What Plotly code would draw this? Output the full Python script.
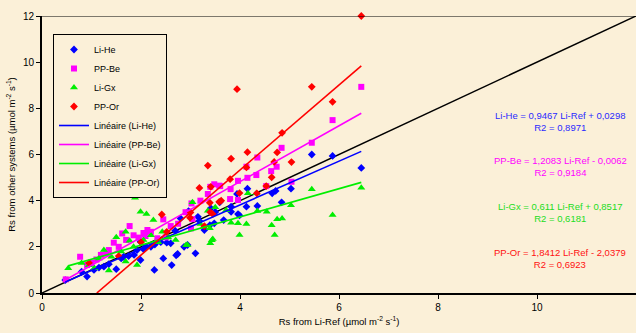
import plotly.graph_objects as go

# ---------------- data ----------------
series_names = ["Li-He", "PP-Be", "Li-Gx", "PP-Or"]

lihe_x = [0.47, 0.80, 0.91, 1.05, 1.15, 1.25, 1.35, 1.50, 1.60, 1.65, 1.75, 1.86, 1.92, 1.99, 1.99,
          2.05, 2.10, 2.20, 2.27, 2.28, 2.40, 2.45, 2.52, 2.60, 2.62, 2.69, 2.71, 2.74, 2.80, 2.87,
          2.94, 2.96, 3.10, 3.15, 3.18, 3.28, 3.39, 3.41, 3.48, 3.50, 3.59, 3.67, 3.82, 3.82, 3.94,
          3.96, 3.99, 4.13, 4.15, 4.35, 4.65, 4.72, 4.84, 5.03, 5.45, 5.87, 6.45]
lihe_y = [0.56, 0.92, 0.71, 1.00, 1.10, 1.14, 1.25, 1.03, 1.50, 1.57, 1.60, 1.65, 1.86, 1.43, 2.22,
          1.90, 2.00, 2.00, 1.00, 2.10, 2.20, 1.50, 2.18, 2.15, 1.21, 2.70, 1.63, 1.69, 3.23, 2.00,
          2.08, 3.55, 1.72, 3.30, 3.12, 2.73, 2.94, 3.67, 3.02, 3.51, 3.93, 3.16, 3.52, 3.74, 4.29,
          3.42, 3.36, 3.74, 4.52, 3.77, 4.32, 4.42, 3.93, 4.52, 6.00, 5.94, 5.42]

ppbe_x = [0.48, 0.77, 0.91, 1.00, 1.10, 1.19, 1.30, 1.35, 1.45, 1.55, 1.62, 1.70, 1.77, 1.85, 1.95,
          2.05, 2.09, 2.13, 2.20, 2.33, 2.45, 2.50, 2.60, 2.75, 2.90, 3.01, 3.02, 3.04, 3.20, 3.35,
          3.40, 3.48, 3.58, 3.60, 3.80, 3.81, 3.96, 3.96, 4.13, 4.15, 4.33, 4.35, 4.53, 4.63, 4.74,
          4.84, 5.04, 5.45, 5.87, 6.45]
ppbe_y = [0.59, 1.57, 1.21, 1.30, 1.45, 1.65, 1.70, 1.86, 2.18, 2.00, 2.58, 2.30, 2.90, 2.50, 2.40,
          2.60, 2.47, 2.73, 2.65, 2.37, 3.19, 2.41, 2.90, 3.00, 3.50, 2.80, 3.88, 3.20, 4.00, 4.29,
          4.60, 4.71, 4.65, 4.63, 4.07, 4.50, 4.03, 4.86, 5.47, 4.99, 5.11, 5.87, 4.63, 5.28, 5.47,
          6.29, 4.82, 6.51, 7.49, 8.93]

ligx_x = [0.53, 0.80, 0.95, 1.06, 1.15, 1.25, 1.35, 1.40, 1.50, 1.60, 1.69, 1.69, 1.77, 1.85, 1.88,
          1.92, 1.99, 2.05, 2.11, 2.20, 2.25, 2.35, 2.43, 2.55, 2.70, 2.91, 2.94, 3.04, 3.20, 3.27,
          3.35, 3.39, 3.40, 3.43, 3.45, 3.50, 3.72, 3.82, 3.96, 3.99, 4.13, 4.16, 4.33, 4.35, 4.54,
          4.64, 4.70, 4.75, 4.85, 5.03, 5.45, 5.87, 6.45]
ligx_y = [1.07, 1.30, 1.20, 1.07, 1.50, 1.86, 0.97, 1.57, 2.41, 1.80, 2.65, 1.36, 2.26, 2.00, 4.13,
          1.21, 3.52, 2.30, 3.42, 2.50, 3.16, 2.20, 2.65, 2.40, 2.30, 2.08, 2.08, 3.93, 2.99, 2.87,
          3.56, 2.80, 2.15, 2.29, 2.34, 3.71, 3.59, 3.04, 3.02, 2.51, 2.99, 4.32, 4.32, 3.55, 3.52,
          2.94, 2.51, 3.19, 3.23, 3.80, 4.50, 3.38, 4.56]

ppor_x = [0.95, 1.55, 2.00, 2.42, 2.52, 2.99, 3.00, 3.18, 3.28, 3.35, 3.39, 3.40, 3.41, 3.45, 3.58,
          3.62, 3.80, 3.82, 3.94, 3.99, 4.13, 4.15, 4.34, 4.53, 4.64, 4.69, 4.75, 4.85, 5.04, 5.45,
          5.87, 6.45]
ppor_y = [1.30, 1.60, 2.20, 3.40, 2.65, 3.26, 3.49, 4.55, 2.90, 5.52, 3.91, 3.50, 4.60, 3.42, 3.95,
          4.00, 4.93, 5.82, 8.83, 4.33, 5.44, 6.10, 4.32, 4.63, 5.01, 5.68, 6.09, 6.94, 5.67, 8.93,
          8.28, 12.00]

slopes = [0.9467, 1.2083, 0.611, 1.8412]
intercepts = [0.0298, -0.0062, 0.8517, -2.0379]
r2_values = [0.8971, 0.9184, 0.6181, 0.6923]

x_ticks = [0, 2, 4, 6, 8, 10]
y_ticks = [0, 2, 4, 6, 8, 10, 12]
one_to_one = [0, 12]

# ---------------- styling ----------------
colors = ["#0000FF", "#FF00FF", "#00EE00", "#FF0000"]
ann_colors = ["#2A2AFF", "#FF00FF", "#22DD22", "#FF1111"]
symbols = ["diamond", "square", "triangle-up", "diamond"]
msizes = [6, 6, 7, 6]
bg = "#FBF0D8"
font_family = "Liberation Sans, Arial, sans-serif"

xs_all = [lihe_x, ppbe_x, ligx_x, ppor_x]
ys_all = [lihe_y, ppbe_y, ligx_y, ppor_y]

fig = go.Figure()

# 1:1 line
fig.add_trace(go.Scatter(x=one_to_one, y=one_to_one, mode="lines",
                         line=dict(color="black", width=1.5), showlegend=False,
                         hoverinfo="skip"))

for i, name in enumerate(series_names):
    fig.add_trace(go.Scatter(x=xs_all[i], y=ys_all[i], mode="markers", name=name,
                             marker=dict(symbol=symbols[i], size=msizes[i], color=colors[i],
                                         line=dict(width=0)),
                             cliponaxis=False))

for i, name in enumerate(series_names):
    xmin = min(xs_all[i])
    if intercepts[i] < 0:
        xmin = max(xmin, -intercepts[i] / slopes[i])
    xmax = max(xs_all[i])
    lx = [xmin, xmax]
    ly = [slopes[i] * v + intercepts[i] for v in lx]
    fig.add_trace(go.Scatter(x=lx, y=ly, mode="lines", name=f"Linéaire ({name})",
                             line=dict(color=colors[i], width=1.6)))


def fmt(v):
    return f"{abs(v):g}".replace(".", ",")


ann_y = [7.42, 5.5, 3.5, 1.5]
for i, name in enumerate(series_names):
    sign = "+" if intercepts[i] >= 0 else "-"
    txt = (f"{name} = {fmt(slopes[i])} Li-Ref {sign} {fmt(intercepts[i])}"
           f"<br>R2 = {fmt(r2_values[i])}")
    fig.add_annotation(x=10.47, y=ann_y[i], xref="x", yref="y", text=txt, showarrow=False,
                       align="center", font=dict(color=ann_colors[i], size=9.5,
                                                 family=font_family))

# top border line at y = 12
fig.add_shape(type="line", xref="paper", yref="y", x0=0, x1=1, y0=12, y1=12,
              line=dict(color="black", width=1))

fig.update_layout(
    width=636, height=333,
    margin=dict(l=42, r=0, t=16, b=40),
    paper_bgcolor=bg, plot_bgcolor=bg,
    font=dict(family=font_family, size=10, color="black"),
    showlegend=True,
    legend=dict(x=0.0185, y=0.935, xanchor="left", yanchor="top",
                bgcolor=bg, bordercolor="black", borderwidth=1,
                font=dict(size=9, family=font_family), tracegroupgap=0,
                itemwidth=30),
    xaxis=dict(range=[0, 12], tickvals=x_ticks, showgrid=False, zeroline=False,
               showline=True, linecolor="black", linewidth=2, ticks="outside",
               ticklen=4, tickcolor="black", tickfont=dict(size=10),
               title=dict(text="Rs from Li-Ref (µmol m<sup>-2</sup> s<sup>-1</sup>)",
                          font=dict(size=9.5), standoff=6)),
    yaxis=dict(range=[0, 12], tickvals=y_ticks, showgrid=False, zeroline=False,
               showline=True, linecolor="black", linewidth=2, ticks="outside",
               ticklen=4, tickcolor="black", tickfont=dict(size=10),
               title=dict(text="Rs from other systems (µmol m<sup>-2</sup> s<sup>-1</sup>)",
                          font=dict(size=9.5), standoff=6)),
)

fig.write_html("out.html", config={"displayModeBar": False},
               post_script="document.body.style.margin='0';document.body.style.background='%s';" % bg)
